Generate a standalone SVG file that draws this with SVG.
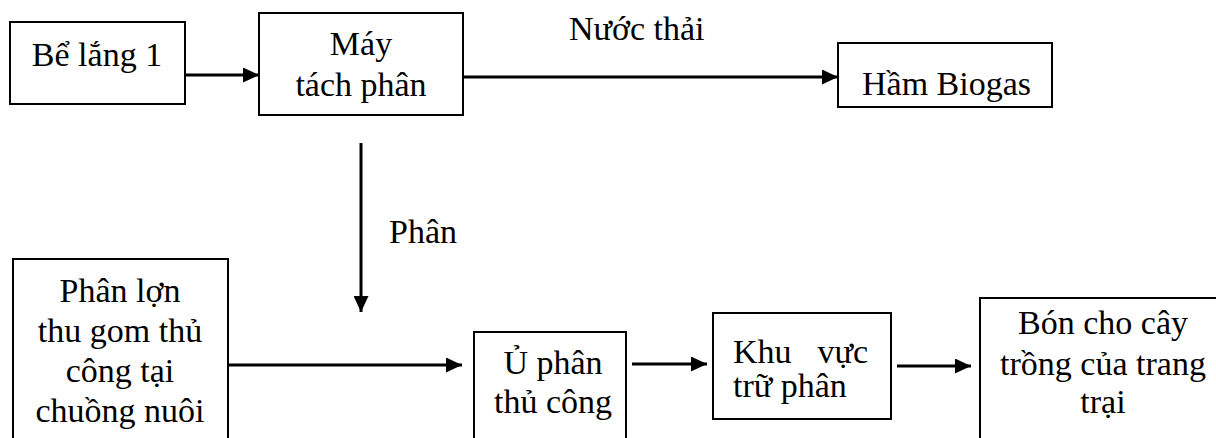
<svg xmlns="http://www.w3.org/2000/svg" width="1216" height="438" viewBox="0 0 1216 438" font-family="'Liberation Serif', serif">
<style>
.box{fill:#fff;stroke:#000;stroke-width:2}
text{font-family:'Liberation Serif','Times New Roman',serif;font-size:34px;fill:#000}
.c{text-anchor:middle}
.e{text-anchor:end}
.ln{stroke:#000;stroke-width:3;fill:none}
</style>
<defs>
<marker id="ah" markerUnits="userSpaceOnUse" markerWidth="16" markerHeight="15" refX="16" refY="7.5" orient="auto">
<path d="M0,0 L16,7.5 L0,15 z" fill="#000"/>
</marker>
</defs>
<rect width="1216" height="438" fill="#fff"/>
<g id="connectors">
<line class="ln" x1="185" y1="75" x2="259" y2="75" marker-end="url(#ah)"/>
<line class="ln" x1="463" y1="77" x2="838" y2="77" marker-end="url(#ah)"/>
<line class="ln" x1="361" y1="143" x2="361" y2="312" marker-end="url(#ah)"/>
<line class="ln" x1="228" y1="365" x2="462" y2="365" marker-end="url(#ah)"/>
<line class="ln" x1="632" y1="364" x2="707" y2="364" marker-end="url(#ah)"/>
<line class="ln" x1="897" y1="366" x2="971" y2="366" marker-end="url(#ah)"/>
<text x="569" y="40">Nước thải</text>
<text x="389" y="243">Phân</text>
</g>
<g id="be-lang">
<rect class="box" x="10" y="22" width="175" height="82"/>
<text class="c" x="97" y="66">Bể lắng 1</text>
</g>
<g id="may-tach">
<rect class="box" x="259" y="13" width="204" height="102"/>
<text class="c" x="361" y="55">Máy</text>
<text class="c" x="361" y="96">tách phân</text>
</g>
<g id="ham-biogas">
<rect class="box" x="838" y="43" width="214" height="64"/>
<text x="862" y="95">Hầm Biogas</text>
</g>
<g id="phan-lon">
<rect class="box" x="13" y="259" width="215" height="200"/>
<text class="c" x="120" y="302">Phân lợn</text>
<text class="c" x="120" y="342">thu gom thủ</text>
<text class="c" x="120" y="382">công tại</text>
<text class="c" x="120" y="422">chuồng nuôi</text>
</g>
<g id="u-phan">
<rect class="box" x="474" y="332" width="152" height="130"/>
<text class="c" x="553" y="374">Ủ phân</text>
<text class="c" x="553" y="413">thủ công</text>
</g>
<g id="khu-vuc">
<rect class="box" x="713" y="313" width="178" height="106"/>
<text x="733" y="363">Khu</text>
<text class="e" x="868" y="363">vực</text>
<text x="733" y="397">trữ phân</text>
</g>
<g id="bon-cho">
<rect class="box" x="980" y="298" width="250" height="160"/>
<text class="c" x="1103" y="334">Bón cho cây</text>
<text class="c" x="1103" y="375">trồng của trang</text>
<text class="c" x="1103" y="413">trại</text>
</g>
</svg>
